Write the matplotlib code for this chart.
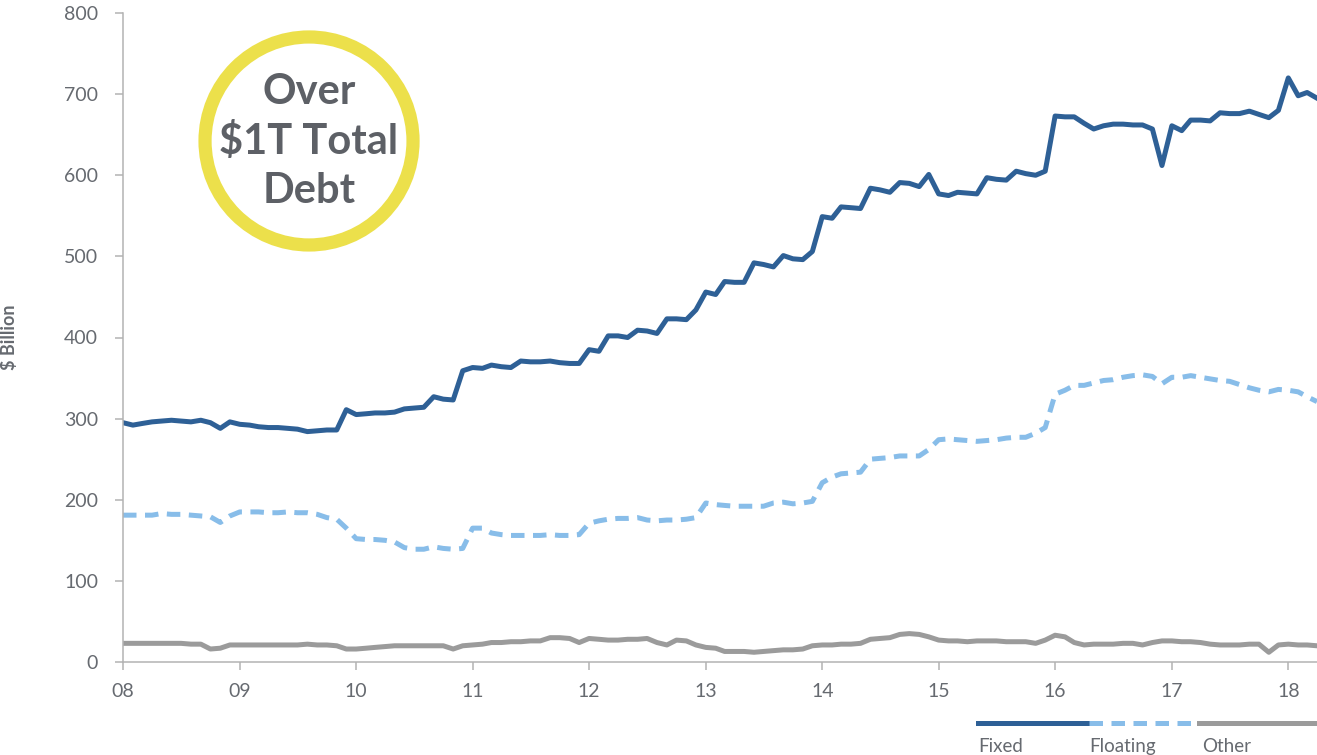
import numpy as np
import pandas as pd
import matplotlib
matplotlib.use("Agg")
import matplotlib.pyplot as plt
import matplotlib.dates as mdates
from matplotlib.patches import Ellipse
from matplotlib.lines import Line2D

# monthly outstanding debt, $ billion, Jan 2008 - Apr 2018
start_month = "2008-01-01"
fixed = [295, 292, 294, 296, 297, 298, 297, 296, 298, 295,
         288, 296, 293, 292, 290, 289, 289, 288, 287, 284,
         285, 286, 286, 311, 305, 306, 307, 307, 308, 312,
         313, 314, 327, 324, 323, 359, 363, 362, 366, 364,
         363, 371, 370, 370, 371, 369, 368, 368, 385, 383,
         402, 402, 400, 409, 408, 405, 423, 423, 422, 434,
         456, 453, 469, 468, 468, 492, 490, 487, 501, 497,
         496, 506, 549, 547, 561, 560, 559, 584, 582, 579,
         591, 590, 586, 601, 577, 575, 579, 578, 577, 597,
         595, 594, 605, 602, 600, 605, 673, 672, 672, 664,
         657, 661, 663, 663, 662, 662, 657, 612, 661, 655,
         668, 668, 667, 677, 676, 676, 679, 675, 671, 680,
         720, 698, 702, 695]
floating = [181, 181, 181, 181, 183, 182, 182, 181, 180, 179,
            172, 180, 185, 185, 185, 184, 184, 185, 184, 184,
            182, 178, 176, 165, 152, 151, 151, 150, 148, 141,
            139, 139, 142, 140, 139, 140, 165, 165, 159, 157,
            156, 156, 156, 156, 157, 156, 156, 157, 171, 174,
            176, 177, 177, 178, 175, 174, 175, 175, 176, 178,
            196, 194, 193, 192, 192, 192, 192, 196, 197, 195,
            196, 198, 221, 228, 232, 233, 234, 250, 251, 252,
            254, 254, 254, 262, 274, 275, 274, 273, 272, 273,
            274, 276, 277, 277, 282, 289, 330, 335, 341, 341,
            344, 347, 348, 351, 353, 354, 352, 343, 351, 351,
            353, 351, 349, 347, 346, 342, 338, 335, 333, 336,
            335, 333, 327, 321]
other = [23, 23, 23, 23, 23, 23, 23, 22, 22, 16,
         17, 21, 21, 21, 21, 21, 21, 21, 21, 22,
         21, 21, 20, 16, 16, 17, 18, 19, 20, 20,
         20, 20, 20, 20, 16, 20, 21, 22, 24, 24,
         25, 25, 26, 26, 30, 30, 29, 24, 29, 28,
         27, 27, 28, 28, 29, 24, 21, 27, 26, 21,
         18, 17, 13, 13, 13, 12, 13, 14, 15, 15,
         16, 20, 21, 21, 22, 22, 23, 28, 29, 30,
         34, 35, 34, 31, 27, 26, 26, 25, 26, 26,
         26, 25, 25, 25, 23, 27, 33, 31, 24, 21,
         22, 22, 22, 23, 23, 21, 24, 26, 26, 25,
         25, 24, 22, 21, 21, 21, 22, 22, 12, 21,
         22, 21, 21, 20]
series_names = ["Fixed", "Floating", "Other"]
callout = "Over\n$1T Total\nDebt"

c_fixed = "#2e6096"
c_float = "#88bde9"
c_other = "#9b9b9b"
grey_txt = "#666a70"

dates = pd.date_range(start_month, periods=len(fixed), freq="MS")

plt.rcParams['font.family'] = ['Lato', 'DejaVu Sans']

fig = plt.figure(figsize=(13.17, 7.55), dpi=100)
ax = fig.add_axes([123/1317, 93/755, 1194/1317, 649/755])

ax.plot(dates, other, color=c_other, lw=3.6, solid_joinstyle='round')
ax.plot(dates, floating, color=c_float, lw=3.6, linestyle=(0, (2.7, 1.7)))
ax.plot(dates, fixed, color=c_fixed, lw=3.6, solid_joinstyle='round')

ax.set_ylim(0, 800)
ax.set_yticks(range(0, 801, 100))
ax.set_xlim(dates[0], dates[-1])
ax.xaxis.set_major_locator(mdates.YearLocator())
ax.xaxis.set_major_formatter(mdates.DateFormatter("%y"))

for s in ["top", "right"]:
    ax.spines[s].set_visible(False)
for s in ["left", "bottom"]:
    ax.spines[s].set_color("#b3b3b3")
    ax.spines[s].set_linewidth(1.1)

ax.tick_params(axis='both', color="#b3b3b3", labelcolor=grey_txt, labelsize=14,
               length=6, width=1.1)
ax.tick_params(axis='y', pad=12)
ax.tick_params(axis='x', pad=9)

ax.set_ylabel("$ Billion", fontsize=13, fontweight='bold', color=grey_txt)
ax.yaxis.set_label_coords(-0.088, 0.5)

# yellow ring callout
ring = Ellipse((0.1558, 0.8028), 2*104/1194, 2*104/649, transform=ax.transAxes,
               fill=False, edgecolor="#ece04b", lw=9.5)
ax.add_patch(ring)
ax.text(0.1558, 0.802, callout, transform=ax.transAxes, ha='center', va='center',
        fontsize=30, fontweight='bold', color="#5d6066", linespacing=1.36)

# legend below the plot, bottom right
leg_y = 32/755
seg = [(978, 1089), (1089, 1199), (1199, 1317)]
styles = [dict(color=c_fixed, lw=3.6),
          dict(color=c_float, lw=3.6, linestyle=(0, (2.7, 1.7))),
          dict(color=c_other, lw=3.6)]
label_x = [978, 1089, 1202]
for (x0, x1), st, lx, name in zip(seg, styles, label_x, series_names):
    fig.add_artist(Line2D([x0/1317, x1/1317], [leg_y, leg_y],
                          transform=fig.transFigure, **st))
    fig.text(lx/1317, 3/755, name, ha='left', va='baseline', fontsize=13.5,
             color=grey_txt)

fig.savefig("out.png", dpi=100)
